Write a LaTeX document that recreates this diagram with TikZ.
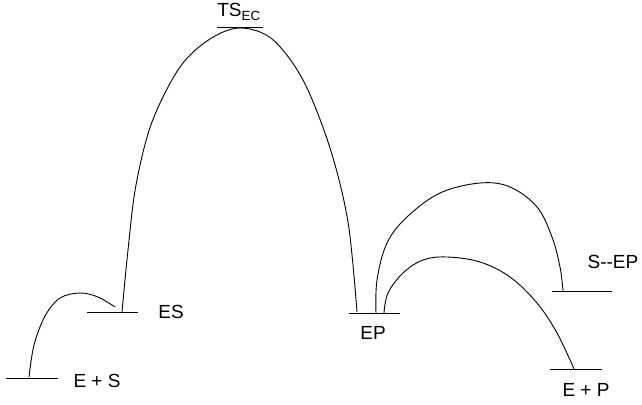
\documentclass[tikz,border=0pt]{standalone}
\usepackage{fontspec}
\setmainfont{Liberation Sans}
\begin{document}
\begin{tikzpicture}[x=1pt,y=-1pt,
  level/.style={line width=1pt},
  curve/.style={line width=0.9pt},
  lbl/.style={font=\fontsize{19}{21}\selectfont, inner sep=0pt}]
\useasboundingbox (0,0) rectangle (642,404);
% levels
\coordinate (es1) at (6,378);   \coordinate (es2) at (58,378);
\coordinate (c1) at (87,312);   \coordinate (c2) at (138,312);
\coordinate (t1) at (217,28);   \coordinate (t2) at (263,28);
\coordinate (p1) at (349,313);  \coordinate (p2) at (400,313);
\coordinate (s1) at (552,291);  \coordinate (s2) at (612,291);
\coordinate (q1) at (550,369);  \coordinate (q2) at (602,369);
\draw[level] (es1) -- (es2);
\draw[level] (c1) -- (c2);
\draw[level] (t1) -- (t2);
\draw[level] (p1) -- (p2);
\draw[level] (s1) -- (s2);
\draw[level] (q1) -- (q2);
% labels
\node[lbl] (lES0) at (97,381) {E + S};
\node[lbl] (lES) at (171,312) {ES};
\node[lbl] (lTS) at (239,12) {TS\textsubscript{EC}};
\node[lbl] (lEP) at (373,333) {EP};
\node[lbl] (lSEP) at (613,262) {S-{}-EP};
\node[lbl] (lEP2) at (586,390) {E + P};
% curves
\draw[curve] plot[smooth, tension=0.55] coordinates {(29,377) (34,345) (45,316) (60,298) (80,293) (98,297) (115,307)};
\draw[curve] plot[smooth, tension=0.55] coordinates {(122,312) (128,250) (136,185) (152,122) (180,67) (210,39) (240,28) (272,39) (303,80) (330,148) (348,222) (357,312)};
\draw[curve] plot[smooth, tension=0.6] coordinates {(376,313) (377,280) (387,243) (407,217) (440,193) (480,183) (510,187) (537,207) (552,237) (560,267) (563,291)};
\draw[curve] plot[smooth, tension=0.6] coordinates {(384,313) (388,293) (403,273) (423,260) (447,257) (480,262) (510,277) (537,303) (557,333) (574,369)};
\end{tikzpicture}
\end{document}
